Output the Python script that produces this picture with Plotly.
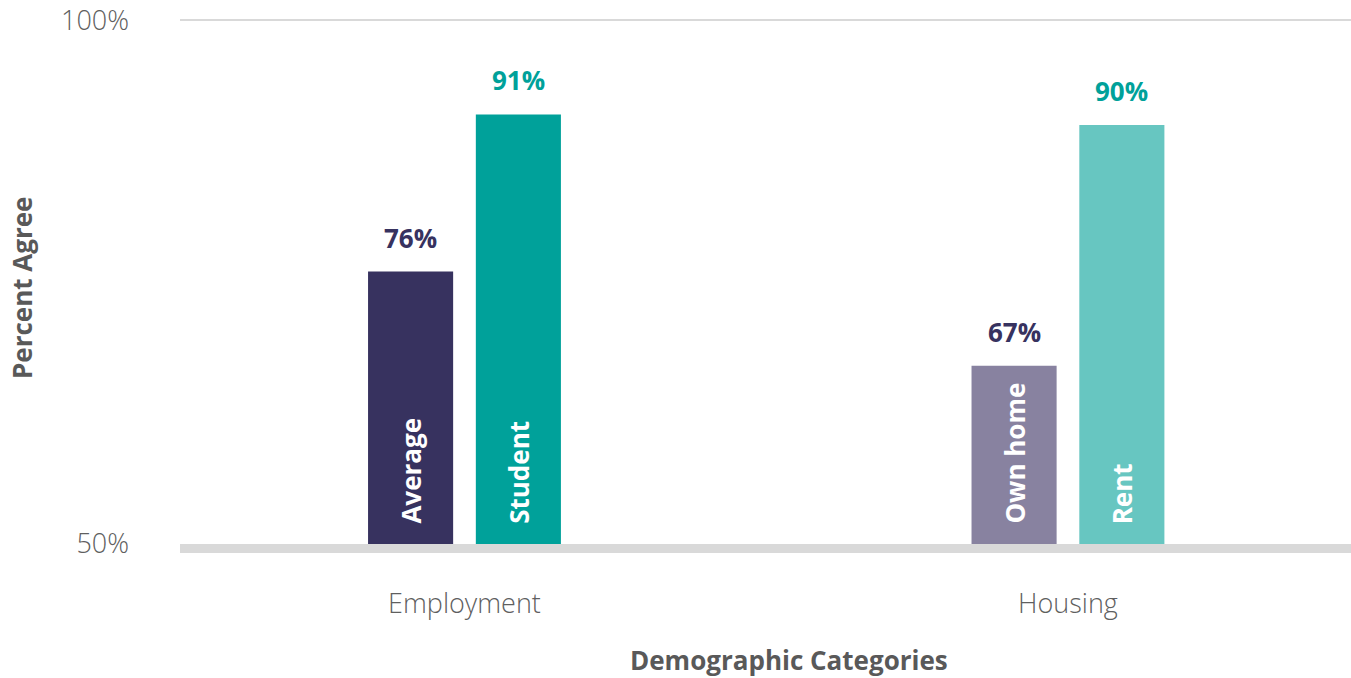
import plotly.graph_objects as go

# Survey results: share agreeing, by demographic category
categories = ["Employment", "Housing"]
group_labels = ["Average", "Student", "Own home", "Rent"]
group_category = [0, 0, 1, 1]          # index into categories
group_side = [-1, 1, -1, 1]            # left / right bar within a category
values = [76, 91, 67, 90]
bar_colors = ["#37325F", "#00A19A", "#8882A0", "#67C6C1"]
value_colors = ["#37325F", "#00A19A", "#37325F", "#00A19A"]
y_ticks = [50, 100]
y_tick_text = ["50%", "100%"]

BAR_W = 0.141
OFFSET = 0.0893
xs = [c + s * OFFSET for c, s in zip(group_category, group_side)]

TICK_FONT = dict(family="Open Sans", size=27, color="#5f5f5f", weight=300)
TITLE_FONT = dict(family="Open Sans", size=26, color="#595959", weight="bold")
BAR_FONT = dict(family="Open Sans", size=26, weight="bold")

fig = go.Figure()
fig.add_trace(go.Bar(
    x=xs, y=[v - 50 for v in values], base=50, width=BAR_W,
    marker=dict(color=bar_colors, line=dict(width=0)),
    hoverinfo="skip", showlegend=False,
))

annotations = []
for x, lab, v, vc in zip(xs, group_labels, values, value_colors):
    # category name written up the bar
    annotations.append(dict(
        x=x, y=50, xref="x", yref="y", text=lab, textangle=-90,
        showarrow=False, xanchor="center", yanchor="bottom", yshift=18,
        font=dict(BAR_FONT, color="white"),
    ))
    # value label above the bar
    annotations.append(dict(
        x=x, y=v, xref="x", yref="y", text=f"{v}%",
        showarrow=False, xanchor="center", yanchor="bottom", yshift=14,
        font=dict(BAR_FONT, color=vc),
    ))
annotations.append(dict(
    x=(789 - 180) / 1171, y=0, xref="paper", yref="paper", yshift=-116,
    text="Demographic Categories", showarrow=False,
    xanchor="center", yanchor="middle", font=TITLE_FONT,
))
annotations.append(dict(
    x=(22 - 180) / 1171, y=(544 - 289) / 524, xref="paper", yref="paper",
    text="Percent Agree", textangle=-90, showarrow=False,
    xanchor="center", yanchor="middle", font=TITLE_FONT,
))

fig.update_layout(
    width=1351, height=678,
    margin=dict(l=180, r=0, t=18, b=134),
    paper_bgcolor="white", plot_bgcolor="white",
    annotations=annotations,
    xaxis=dict(
        range=[-0.4714, 1.469], tickvals=[0, 1], ticktext=categories,
        showgrid=False, zeroline=False, showline=True,
        linecolor="#D9D9D9", linewidth=9, ticks="",
        tickfont=TICK_FONT, ticklabelstandoff=28,
    ),
    yaxis=dict(
        range=[50, 100.2], tickvals=y_ticks, ticktext=y_tick_text,
        showgrid=True, gridcolor="#D9D9D9", gridwidth=2,
        zeroline=False, showline=False, ticks="",
        tickfont=TICK_FONT, ticklabelstandoff=50,
    ),
)

fig.write_html("out.html")
